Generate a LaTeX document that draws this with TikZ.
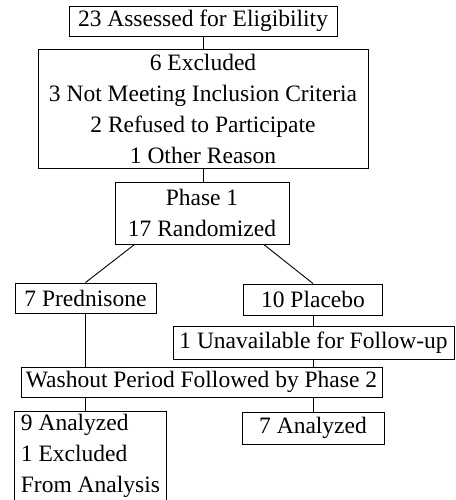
\documentclass[tikz,border=0pt]{standalone}
\usepackage{fontspec}
\setmainfont{Liberation Serif}

\begin{document}
\begin{tikzpicture}[x=1pt, y=-1pt,
  box/.style={draw, line width=0.9pt, inner sep=0pt, align=center,
    font=\fontsize{23.5}{31}\selectfont},
  link/.style={line width=0.9pt}]

\clip (0,0) rectangle (455,500);

\node[box, minimum width=268, minimum height=30] (elig) at (203,21) {23 Assessed for Eligibility};
\node[box, minimum width=330, minimum height=119] (excl) at (203,108.5)
  {6 Excluded\\3 Not Meeting Inclusion Criteria\\2 Refused to Participate\\1 Other Reason};
\node[box, minimum width=174, minimum height=62] (phase) at (202,213) {Phase 1\\17 Randomized};

\node[box, minimum width=141, minimum height=30] (pred) at (85.5,298) {7 Prednisone};
\node[box, minimum width=139, minimum height=31] (plac) at (313,299.5) {10 Placebo};
\node[box, minimum width=281, minimum height=33] (unav) at (313.5,342.5) {1 Unavailable for Follow-up};

\node[box, minimum width=361, minimum height=30] (wash) at (201.5,382) {Washout Period Followed by Phase 2};

\node[box, align=left, anchor=north west, minimum width=152, inner xsep=4pt, inner ysep=3pt,
  text depth=100pt] (anlnine) at (14,411) {9 Analyzed\\1 Excluded\\From Analysis};
\node[box, minimum width=142, minimum height=32] (anlseven) at (313,428) {7 Analyzed};

% connectors
\draw[link] (elig.south) -- (excl.north);
\draw[link] (excl.south) -- (excl.south |- phase.north);
\draw[link] (phase.205.5) -- (pred.north);
\draw[link] (phase.333.8) -- (plac.north);
\draw[link] (pred.south) -- (pred.south |- wash.north);
\draw[link] (plac.south) -- (plac.south |- unav.north);
\draw[link] (unav.south) -- (unav.south |- wash.north);
\draw[link] (wash.south -| pred.south) -- (anlnine.north -| pred.south);
\draw[link] (wash.south -| anlseven.north) -- (anlseven.north);

\end{tikzpicture}
\end{document}
